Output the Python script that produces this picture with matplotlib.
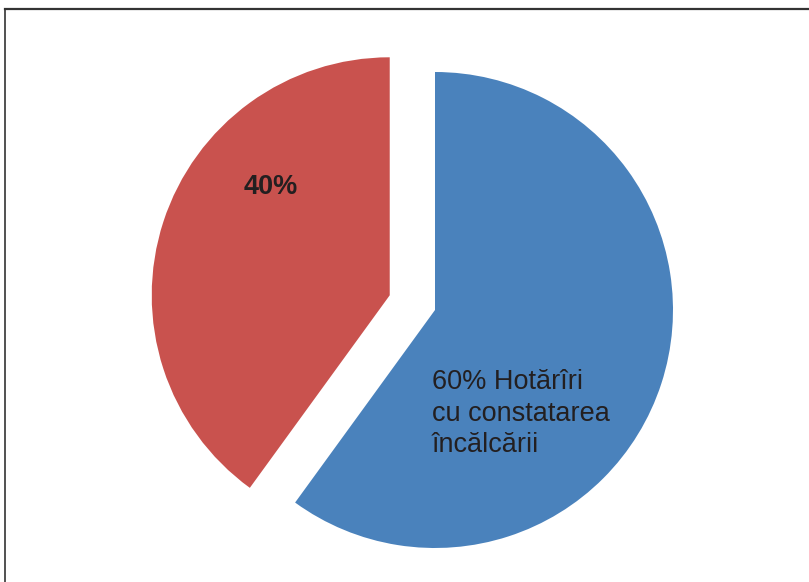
import matplotlib.pyplot as plt
from matplotlib.lines import Line2D

plt.rcParams['font.family'] = ['Liberation Sans', 'DejaVu Sans']

labels = ["60% Hotărîri\ncu constatarea\nîncălcării", "40%"]
shares = [60, 40]
colors = ["#4A82BC", "#C9524E"]
explode = [0, 0.2]

W, H = 809, 582
fig = plt.figure(figsize=(W / 100, H / 100), dpi=100)

# pie centre at (435, 310) px from top-left, radius ~238 px
r = 238
cx, cy = 435, H - 310
lim = 1.25
side = 2 * lim * r
ax = fig.add_axes([(cx - side / 2) / W, (cy - side / 2) / H, side / W, side / H])
ax.pie(shares, colors=colors, explode=explode, startangle=90, counterclock=False,
       wedgeprops=dict(linewidth=0))
ax.set_xlim(-lim, lim)
ax.set_ylim(-lim, lim)
ax.set_aspect('equal')
ax.axis('off')

ax.text(-0.69, 0.515, labels[1], fontsize=19.5, fontweight='bold', color='#231F20',
        ha='center', va='center')
ax.text(-0.013, -0.435, labels[0], fontsize=19.5, color='#231F20',
        ha='left', va='center', linespacing=1.29)

# frame lines (top and left)
fig.add_artist(Line2D([5 / W, 1], [1 - 9 / H, 1 - 9 / H], color='#333333', lw=1.6,
                      transform=fig.transFigure))
fig.add_artist(Line2D([5 / W, 5 / W], [0, 1 - 9 / H], color='#333333', lw=1.2,
                      transform=fig.transFigure))

fig.savefig('out.png', dpi=100)
